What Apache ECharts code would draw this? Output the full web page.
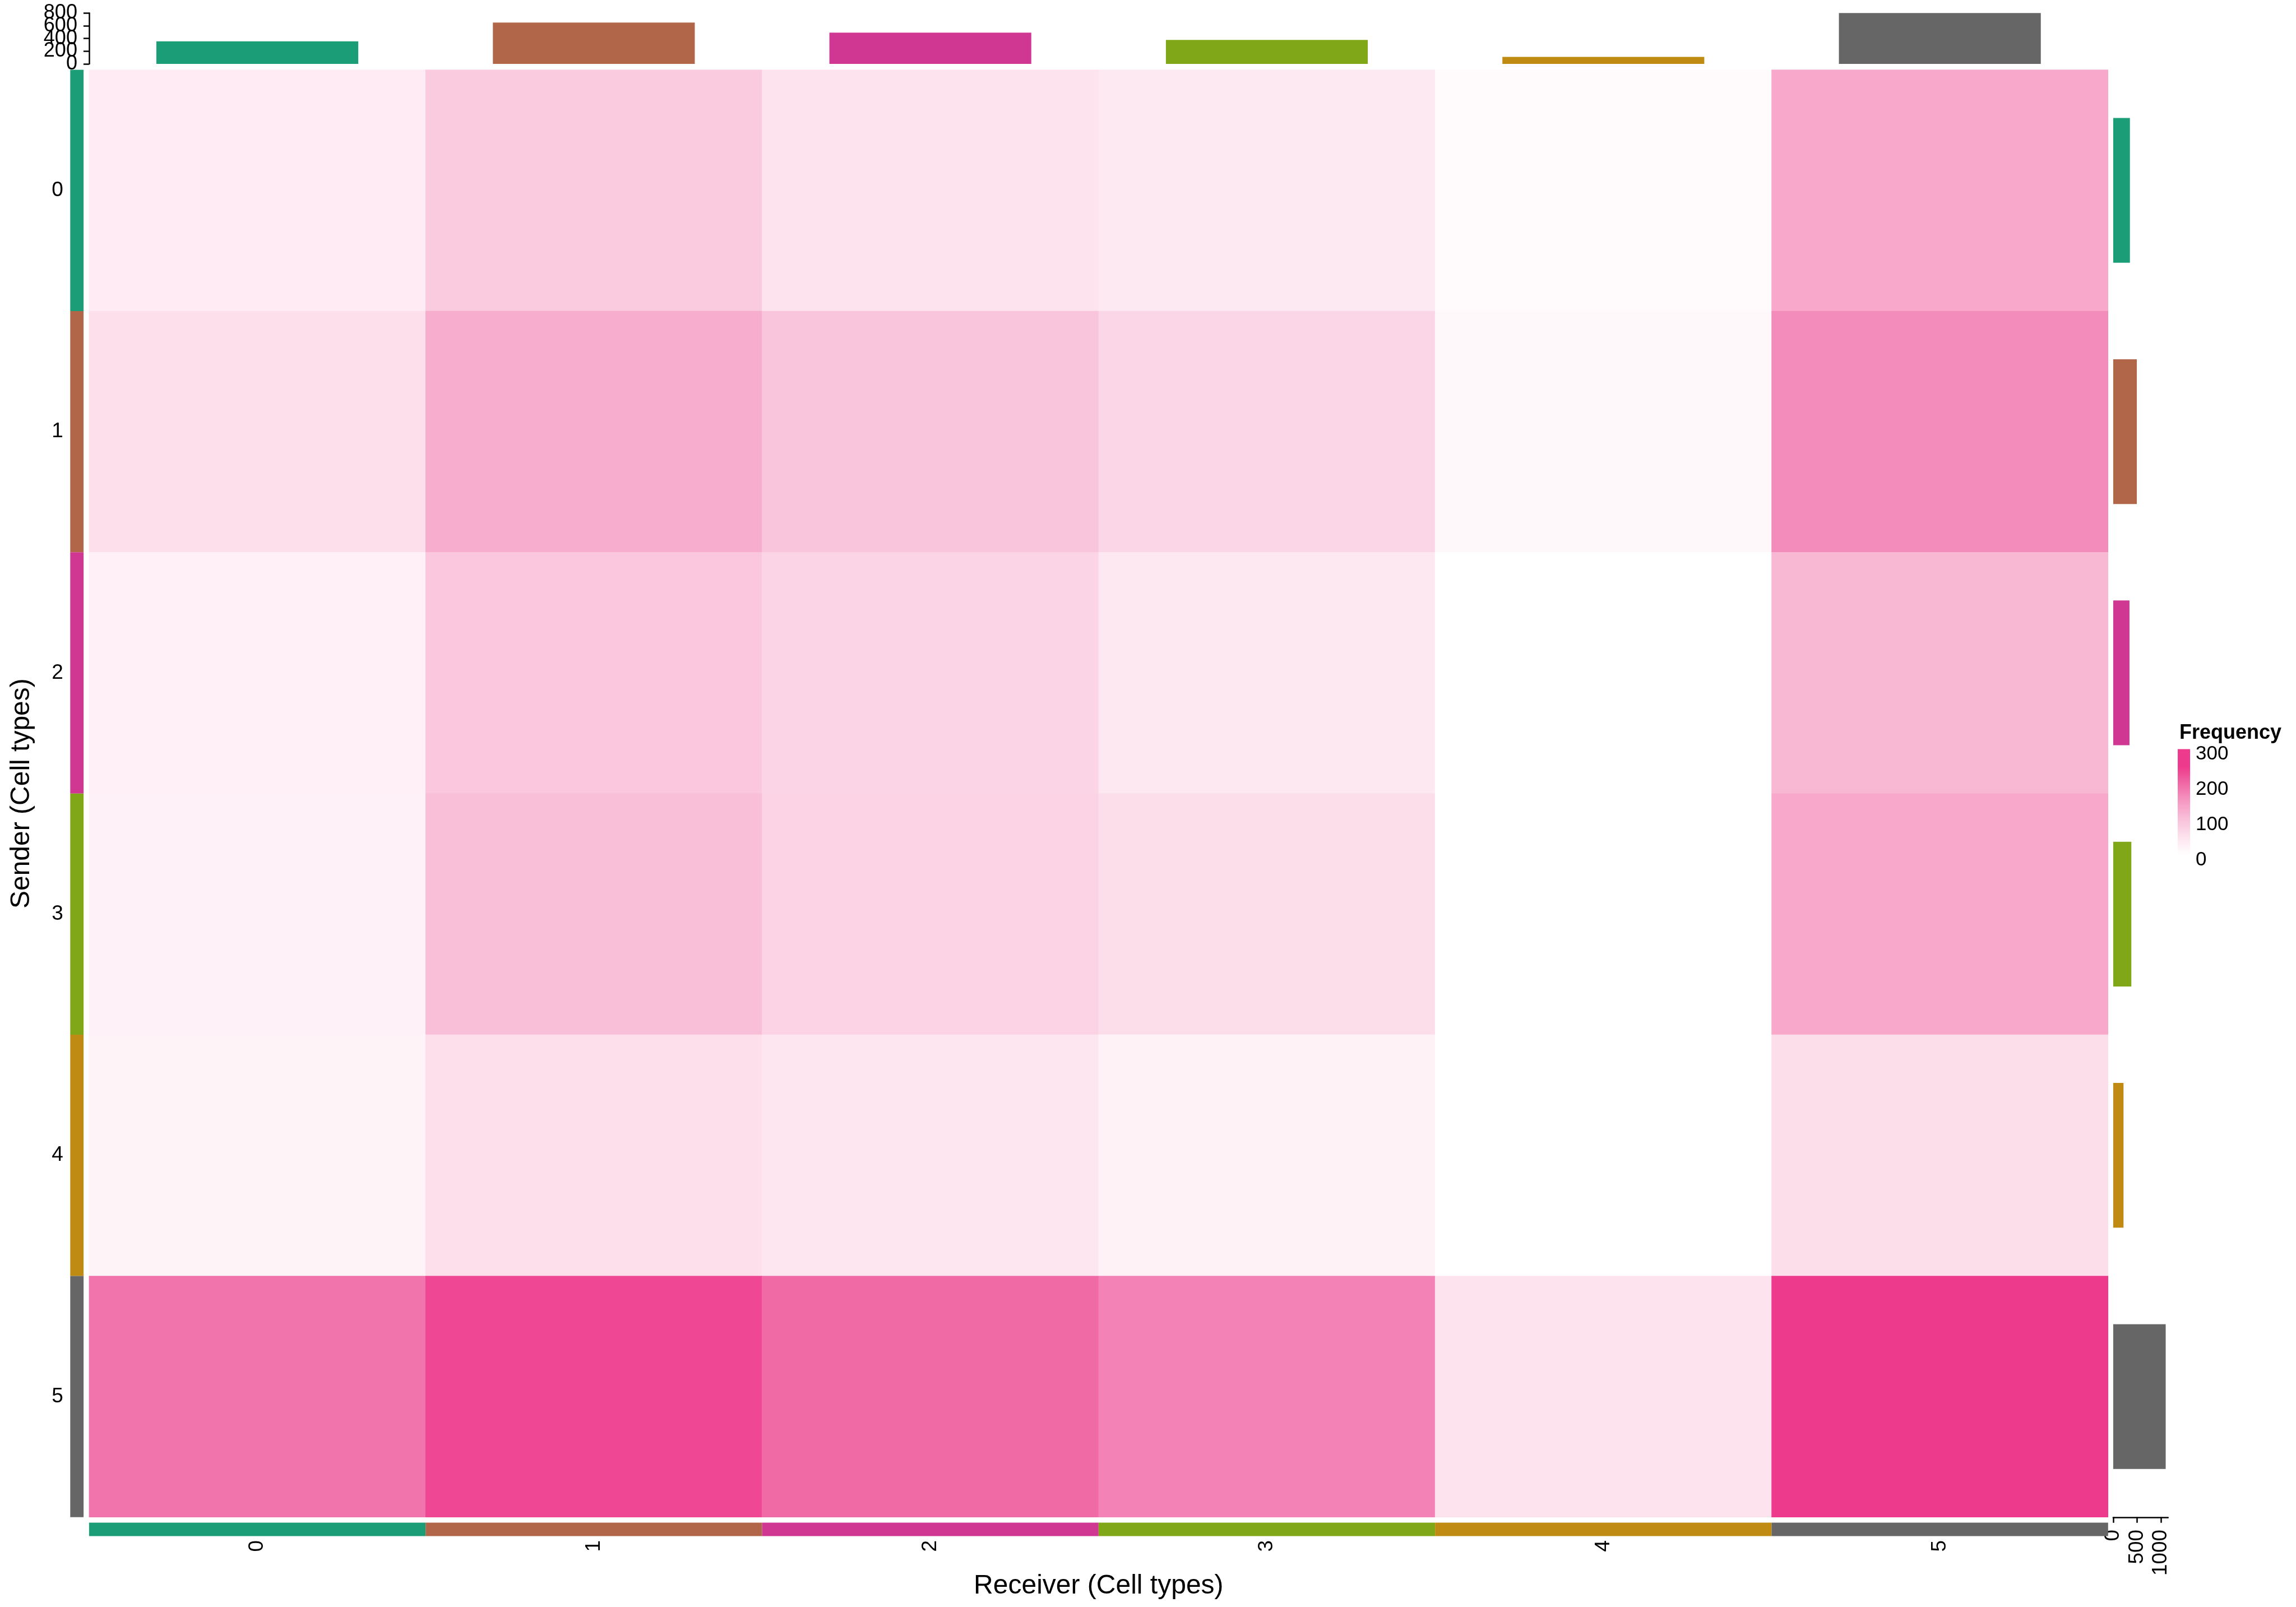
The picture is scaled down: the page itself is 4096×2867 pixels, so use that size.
<!DOCTYPE html>
<html><head><meta charset="utf-8">
<script src="https://cdn.jsdelivr.net/npm/echarts@6/dist/echarts.min.js"></script>
<style>html,body{margin:0;padding:0;background:#fff;} #c{width:4096px;height:2867px;}</style>
</head><body><div id="c"></div>
<script>
// ---- data ----
const cellTypes = ['0', '1', '2', '3', '4', '5'];
const typeColors = ['#1B9E77', '#B16649', '#D03792', '#80A718', '#C08B12', '#666666'];
// rows = sender, columns = receiver
const freqRow0 = [36, 87, 50, 39, 8, 132];
const freqRow1 = [56, 126, 94, 69, 12, 165];
const freqRow2 = [27, 91, 72, 41, 0, 112];
const freqRow3 = [25, 104, 74, 57, 0, 132];
const freqRow4 = [20, 56, 45, 23, 0, 59];
const freqRow5 = [190, 237, 201, 174, 50, 262];
const receiverTotals = [355, 651, 492, 377, 110, 809];
const senderTotals = [350, 495, 341, 380, 216, 1100];
const topTicks = [0, 200, 400, 600, 800];
const rightTicks = [0, 500, 1000];
const legendTicks = [0, 100, 200, 300];
const colorStops = ['#FFFFFF', '#FDE3EE', '#F9C1DA', '#F69AC3', '#F06BA7', '#EE3A8C', '#EE3A8C'];

const freqRows = [freqRow0, freqRow1, freqRow2, freqRow3, freqRow4, freqRow5];
const heatData = [];
freqRows.forEach((row, r) => row.forEach((v, c) => heatData.push([c, r, v])));

// ---- layout (px) ----
const FONT = 'Liberation Sans, Arial, sans-serif';
const hm = { left: 158.9, top: 124.5, width: 3601.9, height: 2582.3 };
const legBar = { x: 3885, y: 1336.6, w: 22.1, h: 188.4 };

const chart = echarts.init(document.getElementById('c'), null, { renderer: 'canvas' });

const graphics = [
  { type: 'text', x: 39, y: hm.top + hm.height / 2, rotation: Math.PI / 2,
    style: { text: 'Sender (Cell types)', font: '48px ' + FONT, fill: '#000', textAlign: 'center', textVerticalAlign: 'middle' } },
  { type: 'text', x: hm.left + hm.width / 2, y: 2830,
    style: { text: 'Receiver (Cell types)', font: '48px ' + FONT, fill: '#000', textAlign: 'center', textVerticalAlign: 'middle' } },
  { type: 'text', x: 3888, y: 1307.8,
    style: { text: 'Frequency', font: 'bold 36px ' + FONT, fill: '#000', textAlign: 'left', textVerticalAlign: 'middle' } },
  { type: 'rect', shape: { x: legBar.x, y: legBar.y, width: legBar.w, height: legBar.h },
    style: { fill: { type: 'linear', x: 0, y: 1, x2: 0, y2: 0,
      colorStops: colorStops.map((c, i) => ({ offset: i / (colorStops.length - 1), color: c })) } } }
];
legendTicks.forEach(v => {
  graphics.push({ type: 'text', x: 3917, y: legBar.y + (1 - v / 300) * legBar.h + 9,
    style: { text: String(v), font: '35px ' + FONT, fill: '#000', textAlign: 'left', textVerticalAlign: 'middle' } });
});

const option = {
  animation: false,
  backgroundColor: '#ffffff',
  textStyle: { fontFamily: FONT },
  grid: [
    { left: hm.left, top: hm.top, width: hm.width, height: hm.height },
    { left: hm.left, top: 23.2, width: hm.width, height: 90.9 },
    { left: 3769.9, top: hm.top, width: 97.9, height: hm.height },
    { left: 125.3, top: hm.top, width: 23.8, height: hm.height },
    { left: hm.left, top: 2716.6, width: hm.width, height: 23.8 }
  ],
  xAxis: [
    { gridIndex: 0, type: 'category', data: cellTypes, position: 'bottom',
      axisLine: { show: false }, axisTick: { show: false }, splitLine: { show: false },
      axisLabel: { rotate: 90, margin: 41, fontSize: 37, color: '#000', fontFamily: FONT } },
    { gridIndex: 1, type: 'category', data: cellTypes, show: false },
    { gridIndex: 2, type: 'value', min: 0, max: 1150, position: 'bottom',
      axisLine: { show: true, lineStyle: { color: '#000', width: 2.5 } },
      axisTick: { show: true, length: 10, lineStyle: { color: '#000', width: 2.5 }, customValues: rightTicks },
      axisLabel: { rotate: 90, margin: 22, fontSize: 37, color: '#000', fontFamily: FONT,
        customValues: rightTicks, formatter: v => String(v) },
      splitLine: { show: false } },
    { gridIndex: 3, type: 'value', min: 0, max: 1, show: false },
    { gridIndex: 4, type: 'category', data: cellTypes, show: false }
  ],
  yAxis: [
    { gridIndex: 0, type: 'category', data: cellTypes, inverse: true,
      axisLine: { show: false }, axisTick: { show: false }, splitLine: { show: false },
      axisLabel: { margin: 46, fontSize: 37, color: '#000', fontFamily: FONT } },
    { gridIndex: 1, type: 'value', min: 0, max: 800, interval: 200, position: 'left',
      axisLine: { show: true, lineStyle: { color: '#000', width: 2.5 } },
      axisTick: { show: true, length: 10, lineStyle: { color: '#000', width: 2.5 }, customValues: topTicks },
      axisLabel: { show: false },
      splitLine: { show: false } },
    { gridIndex: 2, type: 'category', data: cellTypes, inverse: true, show: false },
    { gridIndex: 3, type: 'category', data: cellTypes, inverse: true, show: false },
    { gridIndex: 4, type: 'value', min: 0, max: 1, show: false }
  ],
  visualMap: {
    type: 'continuous', min: 0, max: 300, seriesIndex: 0, show: false,
    inRange: { color: colorStops }
  },
  series: [
    { type: 'heatmap', xAxisIndex: 0, yAxisIndex: 0, data: heatData,
      itemStyle: { borderWidth: 0 }, emphasis: { disabled: true }, progressive: 0 },
    { type: 'bar', xAxisIndex: 1, yAxisIndex: 1, barWidth: '60%',
      data: receiverTotals.map((v, i) => ({ value: v, itemStyle: { color: typeColors[i] } })) },
    { type: 'bar', xAxisIndex: 2, yAxisIndex: 2, barWidth: '60%',
      data: senderTotals.map((v, i) => ({ value: v, itemStyle: { color: typeColors[i] } })) },
    { type: 'bar', xAxisIndex: 3, yAxisIndex: 3, barWidth: '100%', barCategoryGap: '0%',
      data: cellTypes.map((t, i) => ({ value: 1, itemStyle: { color: typeColors[i] } })) },
    { type: 'bar', xAxisIndex: 4, yAxisIndex: 4, barWidth: '100%', barCategoryGap: '0%',
      data: cellTypes.map((t, i) => ({ value: 1, itemStyle: { color: typeColors[i] } })) }
  ],
  graphic: graphics
};
chart.setOption(option);

// top-annotation tick labels (overlapping, as in the reference), placed via the axis scale
topTicks.forEach(v => {
  const y = chart.convertToPixel({ yAxisIndex: 1 }, v);
  graphics.push({ type: 'text', x: hm.left - 21, y: y,
    style: { text: String(v), font: '36px ' + FONT, fill: '#000', textAlign: 'right', textVerticalAlign: 'middle' } });
});
chart.setOption({ graphic: graphics });
</script>
</body></html>
